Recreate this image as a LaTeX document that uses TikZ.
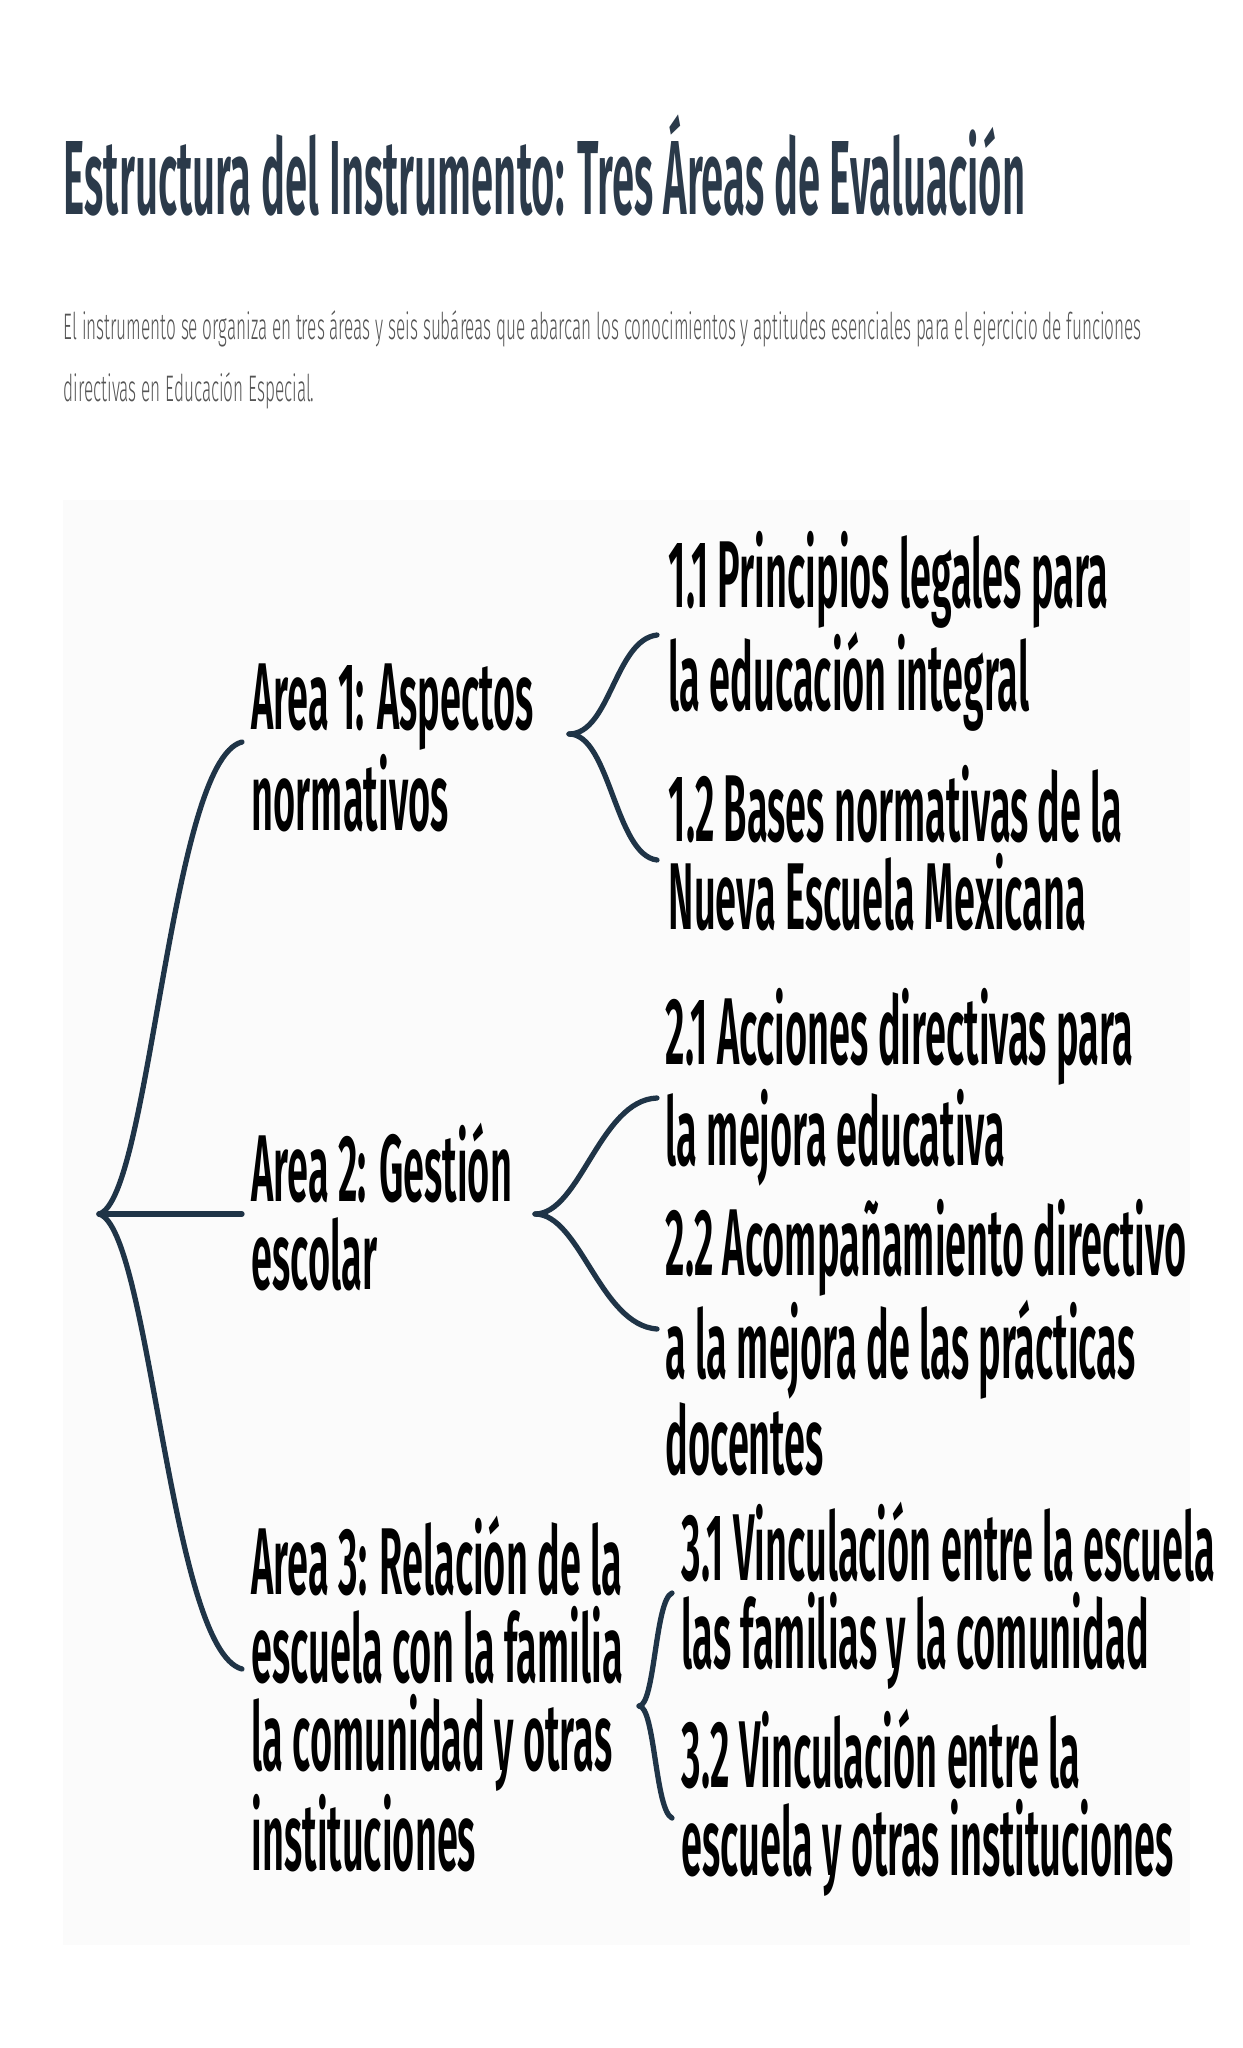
\documentclass[tikz,border=0pt]{standalone}
\usepackage{fontspec}
\setmainfont{Fira Sans}
\newfontfamily\cond[FakeStretch=0.40]{Fira Sans SemiBold}
\newfontfamily\ttlf[FakeStretch=0.38]{Fira Sans SemiBold}
\newfontfamily\subf[FakeStretch=0.465]{Fira Sans Light}
\definecolor{navy}{HTML}{1F3447}
\definecolor{ttl}{HTML}{2B3A4A}
\definecolor{gr}{HTML}{555555}
\begin{document}
\begin{tikzpicture}[x=0.01cm,y=-0.01cm,
  txt/.style={font=\cond\fontsize{27}{25}\selectfont,align=left,inner sep=0,anchor=west,text=black},
  ln/.style={draw=navy,line width=1.5pt,line cap=round}]
\useasboundingbox (0,0) rectangle (1243,2048);
\fill[white] (0,0) rectangle (1243,2048);
\fill[gray!3] (63,500) rectangle (1190,1945);
\node[anchor=west,inner sep=0,text=ttl,font=\ttlf\fontsize{30}{30}\selectfont] (title) at (63,165) {Estructura del Instrumento: Tres Áreas de Evaluación};
\node[anchor=north west,inner sep=0,text=gr,align=left,font=\subf\fontsize{10.5}{17.5}\selectfont] (sub) at (63,310) {El instrumento se organiza en tres áreas y seis subáreas que abarcan los conocimientos y aptitudes esenciales para el ejercicio de funciones\\directivas en Educación Especial.};
\coordinate (r) at (99,1214);
\node[txt] (a1) at (251,748) {Area 1: Aspectos\\normativos};
\node[txt] (a2) at (251,1207) {Area 2: Gestión\\escolar};
\node[txt] (a3) at (251,1694) {Area 3: Relación de la\\escuela con la familia\\la comunidad y otras\\instituciones};
\node[txt] (s11) at (668,631) {1.1 Principios legales para\\la educación integral};
\node[txt] (s12) at (668,848) {1.2 Bases normativas de la\\Nueva Escuela Mexicana};
\node[txt] (s21) at (665,1087) {2.1 Acciones directivas para\\la mejora educativa};
\node[txt] (s22) at (665,1338) {2.2 Acompañamiento directivo\\a la mejora de las prácticas\\docentes};
\node[txt] (s31) at (681,1596) {3.1 Vinculación entre la escuela\\las familias y la comunidad};
\node[txt] (s32) at (681,1803) {3.2 Vinculación entre la\\escuela y otras instituciones};
\coordinate (e1) at (242,742);
\coordinate (e2) at (242,1214);
\coordinate (e3) at (242,1669);
\draw[ln] (r) .. controls (150,1200) and (170,760) .. (e1);
\draw[ln] (r) -- (e2);
\draw[ln] (r) .. controls (150,1228) and (170,1650) .. (e3);
\coordinate (b1) at (569,734); \coordinate (t11) at (657,635); \coordinate (t12) at (657,860);
\draw[ln] (b1) .. controls (610,734) and (615,640) .. (t11);
\draw[ln] (b1) .. controls (610,734) and (615,855) .. (t12);
\coordinate (b2) at (535,1214); \coordinate (t21) at (657,1098); \coordinate (t22) at (657,1329);
\draw[ln] (b2) .. controls (580,1214) and (600,1100) .. (t21);
\draw[ln] (b2) .. controls (580,1214) and (600,1325) .. (t22);
\coordinate (b3) at (639,1706); \coordinate (t31) at (672,1593); \coordinate (t32) at (672,1818);
\draw[ln] (b3) .. controls (655,1706) and (655,1600) .. (t31);
\draw[ln] (b3) .. controls (655,1706) and (655,1810) .. (t32);
\end{tikzpicture}
\end{document}
